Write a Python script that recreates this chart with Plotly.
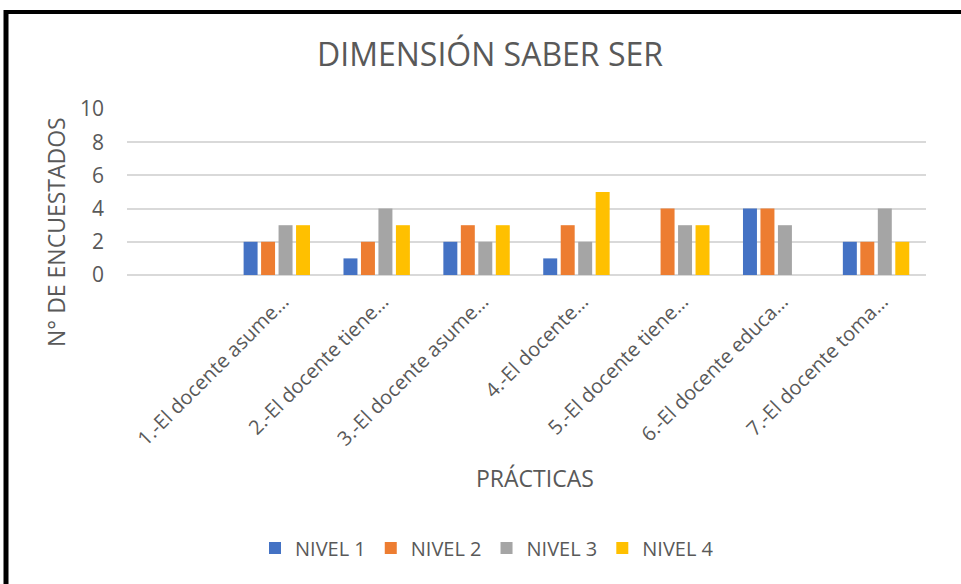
import plotly.graph_objects as go

categorias = [" ", "1.-El docente asume…", "2.-El docente tiene…", "3.-El docente asume…",
              "4.-El docente…", "5.-El docente tiene…", "6.-El docente educa…", "7.-El docente toma…"]
# categories 1 and 3 share the same truncated text, so keep them unique with a zero-width space
categorias[3] = "3.-El docente asume…\u200b"

nivel_1 = [None, 2, 1, 2, 1, None, 4, 2]
nivel_2 = [None, 2, 2, 3, 3, 4, 4, 2]
nivel_3 = [None, 3, 4, 2, 2, 3, 3, 4]
nivel_4 = [None, 3, 3, 3, 5, 3, None, 2]

series = [
    ("NIVEL 1", nivel_1, "#4472C4"),
    ("NIVEL 2", nivel_2, "#ED7D31"),
    ("NIVEL 3", nivel_3, "#A5A5A5"),
    ("NIVEL 4", nivel_4, "#FFC000"),
]

FONT = "Open Sans"
GRIS = "#595959"

fig = go.Figure()
for nombre, valores, color in series:
    fig.add_trace(go.Bar(
        x=categorias,
        y=valores,
        name=nombre,
        marker=dict(color=color, line=dict(width=0)),
    ))

# plot area occupies x 127..926, y 109..275 in pixels
W, H = 961, 584
L, R, T, B = 127, 35, 109, 309
pw, ph = W - L - R, H - T - B


def px_x(x):
    return (x - L) / pw


def px_y(y):
    return (H - B - y) / ph


fig.update_layout(
    width=W, height=H,
    margin=dict(l=L, r=R, t=T, b=B),
    paper_bgcolor="white",
    plot_bgcolor="white",
    font=dict(family=FONT, color=GRIS),
    barmode="group",
    bargap=0.3,
    bargroupgap=0.2,
    title=dict(text="DIMENSIÓN SABER SER", x=490 / W, xref="container", xanchor="center",
               y=1 - 55 / H, yref="container", yanchor="middle",
               font=dict(size=32, color=GRIS, family=FONT)),
    legend=dict(orientation="h", x=487 / W, xref="container", xanchor="center",
                y=1 - 548 / H, yref="container", yanchor="middle",
                font=dict(size=20, color=GRIS), itemwidth=30, traceorder="normal"),
    xaxis=dict(
        type="category",
        tickangle=-45,
        tickfont=dict(size=20, color=GRIS),
        showgrid=False,
        showline=False,
        ticks="",
        ticklabelstandoff=10,
        ticklabelshift=6,
    ),
    yaxis=dict(
        range=[0, 10],
        dtick=2,
        tickfont=dict(size=21, color=GRIS),
        gridcolor="#D9D9D9",
        gridwidth=1.5,
        zeroline=True,
        zerolinecolor="#D9D9D9",
        zerolinewidth=1.5,
        showline=False,
        ticklabelstandoff=22,
    ),
    annotations=[
        dict(text="PRÁCTICAS", xref="paper", yref="paper", x=px_x(535), y=px_y(478),
             xanchor="center", yanchor="middle", showarrow=False,
             font=dict(size=23, color=GRIS)),
        dict(text="N° DE ENCUESTADOS", xref="paper", yref="paper", x=px_x(56), y=px_y(232),
             xanchor="center", yanchor="middle", showarrow=False, textangle=-90,
             font=dict(size=23, color=GRIS)),
    ],
    shapes=[
        dict(type="line", xref="paper", yref="paper", x0=px_x(6), x1=px_x(975),
             y0=px_y(12), y1=px_y(12), line=dict(color="black", width=4)),
        dict(type="line", xref="paper", yref="paper", x0=px_x(6), x1=px_x(6),
             y0=px_y(10), y1=px_y(600), line=dict(color="black", width=5)),
    ],
)

fig.write_html("out.html", config={"displayModeBar": False},
               post_script="document.body.style.margin='0';")
